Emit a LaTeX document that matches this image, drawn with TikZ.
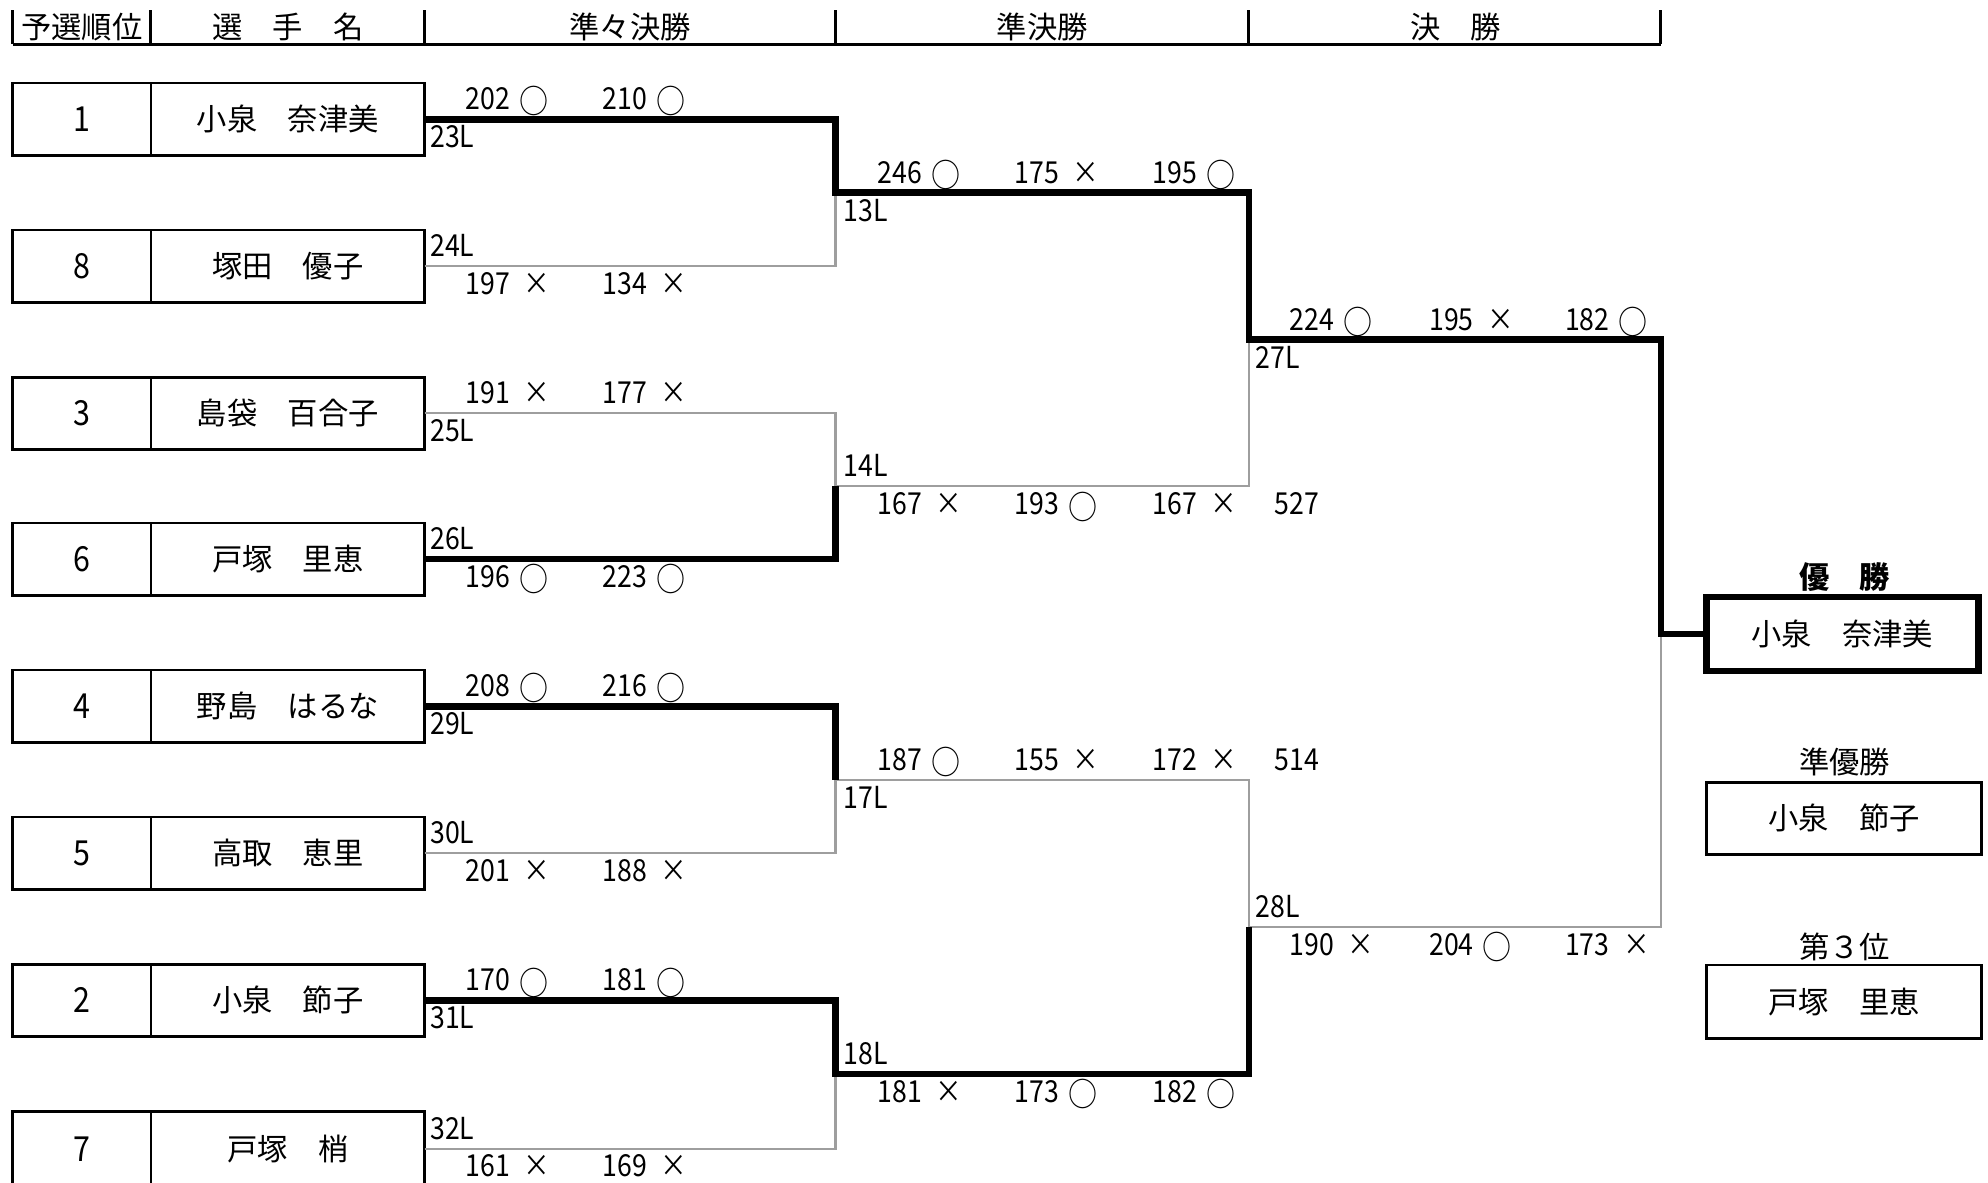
\documentclass[tikz,border=0pt]{standalone}
\usepackage{fontspec}
\setmainfont{Noto Sans CJK JP}
\newfontfamily\numfont{Noto Sans CJK JP}[FakeStretch=0.88]
\usepackage{tikz}
\definecolor{loseline}{gray}{0.62}
\newcommand\maru{\hspace{0.3em}{\fontsize{14.8}{16}\selectfont\raisebox{-0.13em}{○}}}
\newcommand\batsu{\hspace{0.45em}×}

\begin{document}
\begin{tikzpicture}[x=0.02cm,y=-0.02cm,
  every node/.style={font=\fontsize{13.6}{16}\selectfont},
  rankbox/.style={draw,line width=1.2pt,minimum width=2.18cm,minimum height=1.14cm,inner sep=0pt,outer sep=0pt,font=\fontsize{15.5}{16}\selectfont\numfont},
  namebox/.style={draw,line width=1.2pt,minimum width=4.32cm,minimum height=1.14cm,inner sep=0pt,outer sep=0pt},
  win/.style={line width=3pt,black},
  lose/.style={line width=1pt,loseline},
  sc/.style={anchor=base west,inner sep=0pt,font=\fontsize{13.6}{16}\selectfont\numfont}]
\useasboundingbox (0,0) rectangle (1568,933);
\clip (0,0) rectangle (1568,933);
\draw[line width=1.4pt] (10,35) -- (1310,35);
\draw[line width=1.3pt] (10,8) -- (10,35) (119,8) -- (119,35) (335,8) -- (335,35)
  (659,8) -- (659,35) (985,8) -- (985,35) (1310,8) -- (1310,35);
\node (hrank) at (64.5,21) {予選順位};
\node (hname) at (227,21) {選　手　名};
\node (hqf) at (497,21) {準々決勝};
\node (hsf) at (822,21) {準決勝};
\node (hfin) at (1148,21) {決　勝};

\node[rankbox] (r1) at (64.5,94) {1};
\node[namebox] (n1) at (227,94) {小泉　奈津美};
\node[rankbox] (r8) at (64.5,210) {8};
\node[namebox] (n8) at (227,210) {塚田　優子};
\node[rankbox] (r3) at (64.5,326) {3};
\node[namebox] (n3) at (227,326) {島袋　百合子};
\node[rankbox] (r6) at (64.5,441) {6};
\node[namebox] (n6) at (227,441) {戸塚　里恵};
\node[rankbox] (r4) at (64.5,557) {4};
\node[namebox] (n4) at (227,557) {野島　はるな};
\node[rankbox] (r5) at (64.5,673) {5};
\node[namebox] (n5) at (227,673) {高取　恵里};
\node[rankbox] (r2) at (64.5,789) {2};
\node[namebox] (n2) at (227,789) {小泉　節子};
\node[rankbox,minimum height=1.18cm] (r7) at (64.5,906) {7};
\node[namebox,minimum height=1.18cm] (n7) at (227,906) {戸塚　梢};

\coordinate (qa) at (659,152);
\coordinate (qb) at (659,383.5);
\coordinate (qc) at (659,615);
\coordinate (qd) at (659,847);
\coordinate (sa) at (985,268);
\coordinate (sb) at (985,731);
\coordinate (fa) at (1310,500);

\node[font=\fontsize{13.6}{16}\selectfont\bfseries] (lwin) at (1455,455) {優　勝};
\node[namebox,line width=3pt,minimum width=4.29cm,minimum height=1.17cm] (champ) at (1453,500) {小泉　奈津美};
\node (lru) at (1455,601) {準優勝};
\node[namebox,minimum width=4.34cm] (ru) at (1454.5,645.5) {小泉　節子};
\node (lth) at (1455,747) {第３位};
\node[namebox,minimum width=4.34cm,minimum height=1.16cm] (th) at (1454.5,790) {戸塚　里恵};

\draw[lose] (n8.east) -| (qa);
\draw[lose] (n3.east) -| (qb);
\draw[lose] (n5.east) -| (qc);
\draw[lose] (n7.east) -| (qd);
\draw[lose] (qb) -| (sa);
\draw[lose] (qc) -| (sb);
\draw[lose] (sb) -| (fa);
\draw[win] (n1.east) -| (qa) -| (sa) -| (fa) -- (champ.west);
\draw[win] (n6.east) -| (qb);
\draw[win] (n4.east) -| (qc);
\draw[win] (n2.east) -| (qd) -| (sb);

\node[sc] (q1a) at (367,86.5) {202\maru};
\node[sc] (q1b) at (475,86.5) {210\maru};
\node[sc] (l23) at (339,116.5) {23L};
\node[sc] (l24) at (339,202.5) {24L};
\node[sc] (q8a) at (367,232.5) {197\batsu};
\node[sc] (q8b) at (475,232.5) {134\batsu};
\node[sc] (q3a) at (367,318.5) {191\batsu};
\node[sc] (q3b) at (475,318.5) {177\batsu};
\node[sc] (l25) at (339,348.5) {25L};
\node[sc] (l26) at (339,433.5) {26L};
\node[sc] (q6a) at (367,463.5) {196\maru};
\node[sc] (q6b) at (475,463.5) {223\maru};
\node[sc] (q4a) at (367,549.5) {208\maru};
\node[sc] (q4b) at (475,549.5) {216\maru};
\node[sc] (l29) at (339,579.5) {29L};
\node[sc] (l30) at (339,665.5) {30L};
\node[sc] (q5a) at (367,695.5) {201\batsu};
\node[sc] (q5b) at (475,695.5) {188\batsu};
\node[sc] (q2a) at (367,781.5) {170\maru};
\node[sc] (q2b) at (475,781.5) {181\maru};
\node[sc] (l31) at (339,811.5) {31L};
\node[sc] (l32) at (339,898.5) {32L};
\node[sc] (q7a) at (367,928) {161\batsu};
\node[sc] (q7b) at (475,928) {169\batsu};

\node[sc] (s1a) at (692,144.5) {246\maru};
\node[sc] (s1b) at (800,144.5) {175\batsu};
\node[sc] (s1c) at (909,144.5) {195\maru};
\node[sc] (l13) at (665,174.5) {13L};
\node[sc] (l14) at (665,376) {14L};
\node[sc] (s6a) at (692,406) {167\batsu};
\node[sc] (s6b) at (800,406) {193\maru};
\node[sc] (s6c) at (909,406) {167\batsu};
\node[sc] (t6) at (1005,406) {527};
\node[sc] (s4a) at (692,607.5) {187\maru};
\node[sc] (s4b) at (800,607.5) {155\batsu};
\node[sc] (s4c) at (909,607.5) {172\batsu};
\node[sc] (t4) at (1005,607.5) {514};
\node[sc] (l17) at (665,637.5) {17L};
\node[sc] (l18) at (665,839.5) {18L};
\node[sc] (s2a) at (692,869.5) {181\batsu};
\node[sc] (s2b) at (800,869.5) {173\maru};
\node[sc] (s2c) at (909,869.5) {182\maru};

\node[sc] (f1a) at (1017,260.5) {224\maru};
\node[sc] (f1b) at (1127,260.5) {195\batsu};
\node[sc] (f1c) at (1234,260.5) {182\maru};
\node[sc] (l27) at (990,290.5) {27L};
\node[sc] (l28) at (990,723.5) {28L};
\node[sc] (f2a) at (1017,753.5) {190\batsu};
\node[sc] (f2b) at (1127,753.5) {204\maru};
\node[sc] (f2c) at (1234,753.5) {173\batsu};
\end{tikzpicture}
\end{document}
